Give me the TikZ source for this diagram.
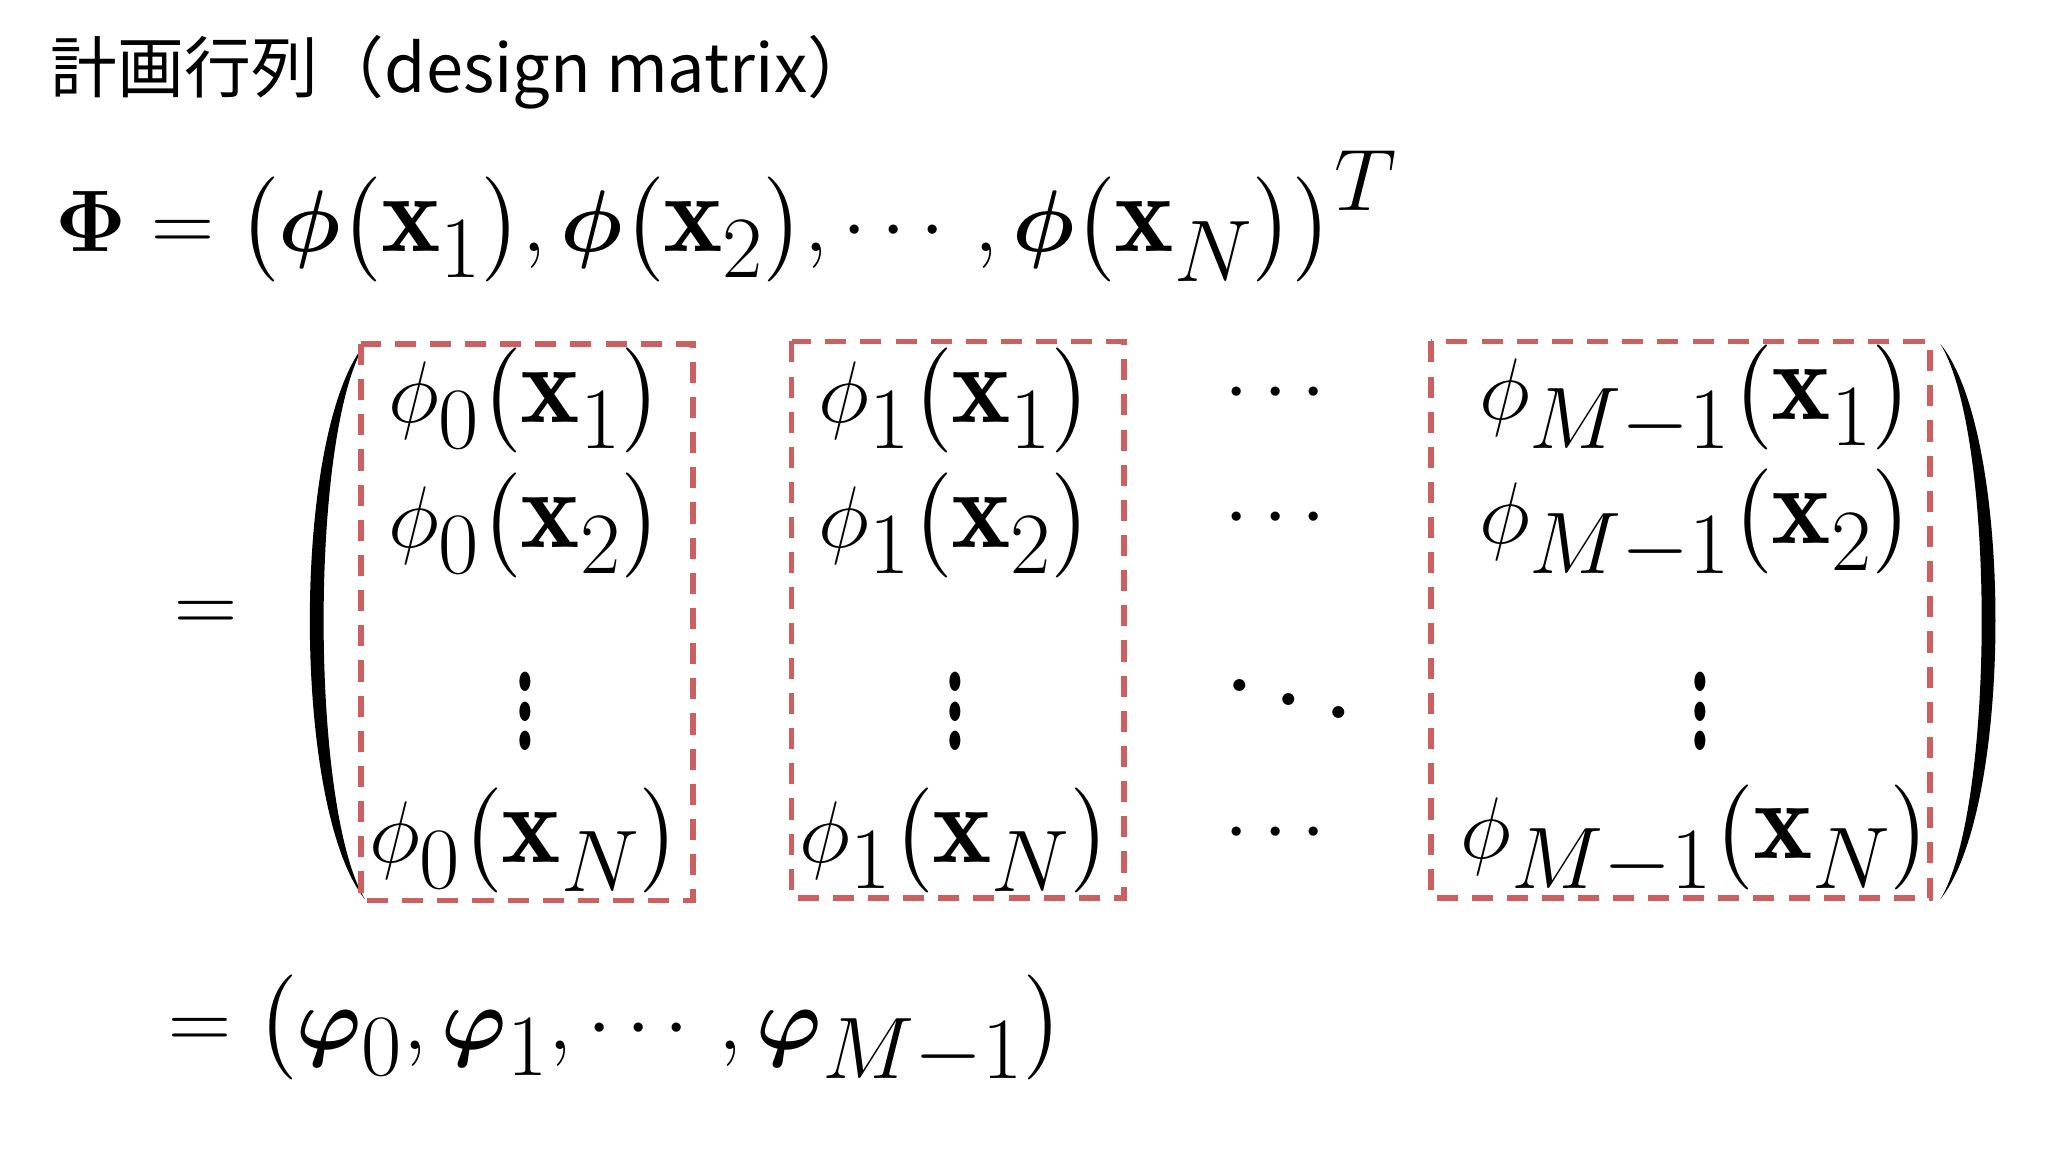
\documentclass[tikz,border=0pt]{standalone}
\usepackage{amsmath,bm}
\usepackage{fontspec}
\newfontfamily\cjk{Noto Sans CJK JP}
\DeclareMathSizes{32}{32}{26}{20}
\definecolor{boxred}{HTML}{CC5F5F}
\newcommand{\tallvdots}{\scalebox{1.2}[2.1]{$\vdots$}}
\newcommand{\bigdd}{\scalebox{1.3}{$\ddots$}}
\tikzset{
  mt/.style={inner sep=0pt, font=\fontsize{32}{40}\selectfont},
  ttl/.style={inner sep=0pt, font=\cjk\fontsize{19}{24}\selectfont},
  dbox/.style={draw=boxred, line width=1.6pt, dash pattern=on 6pt off 4pt},
  paren/.style={fill=black}
}
\begin{document}
\begin{tikzpicture}[x=0.013128cm,y=-0.013128cm]
\useasboundingbox (0,0) rectangle (1560,877.5);
\node[ttl, anchor=west] (title) at (38,55) {計画行列（design matrix）};
\node[mt, anchor=west] (l1) at (42,165) {$\bm{\Phi} = \bigl(\bm{\phi}\bigl(\mathbf{x}_1\bigr),\bm{\phi}\bigl(\mathbf{x}_2\bigr),\cdots,\bm{\phi}\bigl(\mathbf{x}_N\bigr)\bigr)^T$};
\node[mt] (eq2) at (157,470) {$=$};
% parentheses
\path[paren] (278,262) .. controls (222,330) and (222,615) .. (278,685) .. controls (236,615) and (236,330) .. (278,262);
\path[paren] (1478,262) .. controls (1534,330) and (1534,615) .. (1478,685) .. controls (1520,615) and (1520,330) .. (1478,262);
% entries
\node[mt] (a1) at (400,305) {$\phi_0\bigl(\mathbf{x}_1\bigr)$};
\node[mt] (a2) at (400,400) {$\phi_0\bigl(\mathbf{x}_2\bigr)$};
\node[mt] (a3) at (400,525) {\tallvdots};
\node[mt] (a4) at (400,640) {$\phi_0\bigl(\mathbf{x}_N\bigr)$};
\node[mt] (b1) at (728,305) {$\phi_1\bigl(\mathbf{x}_1\bigr)$};
\node[mt] (b2) at (728,400) {$\phi_1\bigl(\mathbf{x}_2\bigr)$};
\node[mt] (b3) at (728,525) {\tallvdots};
\node[mt] (b4) at (728,640) {$\phi_1\bigl(\mathbf{x}_N\bigr)$};
\node[mt] (c1) at (977,300) {$\cdots$};
\node[mt] (c2) at (977,395) {$\cdots$};
\node[mt] (c3) at (982,522) {\bigdd};
\node[mt] (c4) at (977,635) {$\cdots$};
\node[mt] (d1) at (1292,305) {$\phi_{M-1}\bigl(\mathbf{x}_1\bigr)$};
\node[mt] (d2) at (1292,400) {$\phi_{M-1}\bigl(\mathbf{x}_2\bigr)$};
\node[mt] (d3) at (1295,525) {\tallvdots};
\node[mt] (d4) at (1292,640) {$\phi_{M-1}\bigl(\mathbf{x}_N\bigr)$};
\draw[dbox] (275,262) rectangle (528,686);
\draw[dbox] (603,260) rectangle (856,684);
\draw[dbox] (1090,260) rectangle (1470,684);
\node[mt, anchor=west] (l3) at (128,785) {$=\bigl(\bm{\varphi}_0,\bm{\varphi}_1,\cdots,\bm{\varphi}_{M-1}\bigr)$};
\end{tikzpicture}
\end{document}
